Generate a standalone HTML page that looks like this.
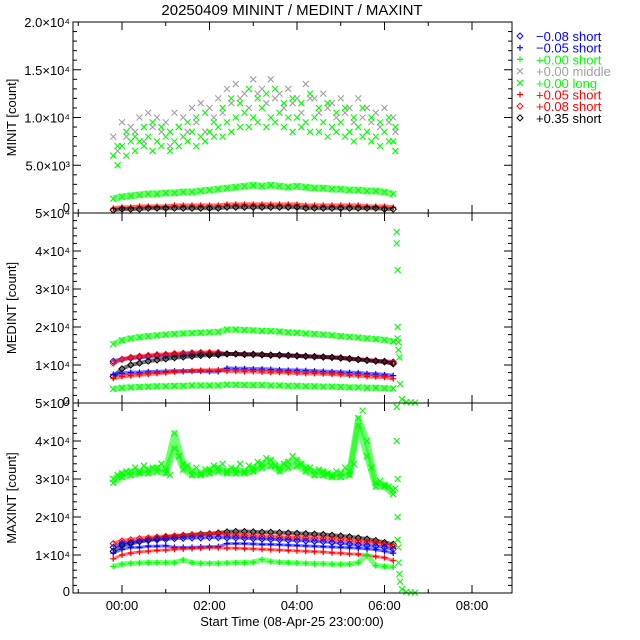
<!DOCTYPE html>
<html><head><meta charset="utf-8"><style>
html,body{margin:0;padding:0;background:#fff}
svg{display:block;font-family:"Liberation Sans",sans-serif}
</style></head><body>
<svg id="c" width="640" height="640" viewBox="0 0 640 640"></svg>
<script>
// ---- data (hours relative to 23:00, values in thousands of counts) ----
const times=[-0.2,0,0.2,0.4,0.6,0.8,1,1.2,1.4,1.6,1.8,2,2.2,2.4,2.6,2.8,3,3.2,3.4,3.6,3.8,4,4.2,4.4,4.6,4.8,5,5.2,5.4,5.6,5.8,6,6.2];
const times2=[-0.1,0.1,0.3,0.5,0.7,0.9,1.1,1.3,1.5,1.7,1.9,2.1,2.3,2.5,2.7,2.9,3.1,3.3,3.5,3.7,3.9,4.1,4.3,4.5,4.7,4.9,5.1,5.3,5.5,5.7,5.9,6.1,6.25];
const xTickLabels=["00:00","02:00","04:00","06:00","08:00"];
// MININT
const minMiddle=[8,9.5,9,10,10.5,10,9.5,10.5,10,11,11.5,11,12,13,13.5,12.5,14,13,14,12.5,13,12,13.5,12,12.5,11.5,12,11,12,11,10.5,11,10];
const minMiddle2=[6.5,8,8.5,7.5,9,8.5,7,9,8.5,9.5,8.5,10,10.5,11.5,12,11,12.5,11.5,12,11,11.5,10.5,12,10.5,11,10,10.5,9.5,10,9.5,9,9.5,8.5];
const minLong=[6,7,7.5,7.5,8,7.5,8,7.5,8,8.5,8,8.5,9,9.5,10,10.5,10,11,10,10.5,10,10,9.5,10,9.5,9,9.5,8.5,9,8.5,8,8.5,7.5];
const minLong2=[5,6,6.5,7,6.5,7,6.5,7,7.5,7,7.5,8,8,8.5,9,9,9.5,9,9.5,9,8.5,9,8.5,8.5,8,8.5,8,7.5,8,7.5,7,7.5,6.5];
const minLong3=[7,8.5,8,9,9.5,9,8.5,9,9.5,10,10.5,9.5,11,12,11.5,13,12,12.5,13,11.5,12,11.5,12.5,11,11.5,10.5,11,10,11,10,9.5,10,9];
const minShort=[1.5,1.7,1.8,1.9,2,2,2.1,2.1,2.2,2.2,2.3,2.4,2.5,2.6,2.7,2.8,2.9,2.8,2.9,2.8,2.7,2.8,2.7,2.6,2.6,2.5,2.5,2.4,2.4,2.3,2.3,2.2,2];
const minRed=[0.5,0.6,0.6,0.7,0.7,0.7,0.7,0.8,0.8,0.8,0.8,0.8,0.8,0.9,0.9,0.9,0.9,0.9,0.9,0.9,0.9,0.9,0.8,0.8,0.8,0.8,0.8,0.8,0.8,0.7,0.7,0.7,0.6];
const minBlack=[0.3,0.4,0.4,0.4,0.5,0.5,0.5,0.5,0.5,0.5,0.5,0.5,0.5,0.6,0.6,0.6,0.6,0.6,0.6,0.6,0.6,0.6,0.5,0.5,0.5,0.5,0.5,0.5,0.5,0.5,0.5,0.4,0.4];
// MEDINT
const medShort=[15.5,16.5,17,17.3,17.6,17.8,18,18.2,18.3,18.4,18.5,18.6,18.7,19.3,19.3,19.2,19.1,19,18.9,18.8,18.6,18.5,18.3,18.2,18,17.8,17.6,17.4,17.2,17,16.8,16.6,16.2];
const medBlueD=[11,11.5,11.8,12,12.2,12.4,12.5,12.7,12.8,12.9,13,13,13,12.9,12.9,12.8,12.8,12.7,12.6,12.6,12.5,12.4,12.3,12.2,12.1,12,11.9,11.7,11.5,11.3,11.1,11,10.8];
const medRedD=[10.5,11.5,12,12.3,12.5,12.7,12.8,13,13.1,13.2,13.3,13.3,13.3,12.9,12.9,12.8,12.8,12.7,12.6,12.6,12.5,12.4,12.3,12.2,12.1,12,11.9,11.7,11.5,11.3,11.1,10.9,10.6];
const medBlackD=[7,9,10,10.5,11,11.3,11.6,11.9,12.1,12.3,12.5,12.6,12.7,12.9,12.9,12.8,12.8,12.7,12.6,12.6,12.5,12.4,12.3,12.2,12.1,12,11.8,11.6,11.4,11.2,11,10.8,10.3];
const medBlueP=[7.5,7.8,8,8,8.2,8.2,8.3,8.4,8.4,8.4,8.4,8.3,8.3,9.1,9,9,8.9,8.9,8.8,8.7,8.6,8.6,8.5,8.4,8.3,8.2,8.1,8,7.9,7.7,7.6,7.4,7.2];
const medRedP=[6.5,7,7.2,7.4,7.6,7.8,8,8.2,8.3,8.5,8.6,8.6,8.7,8.4,8.4,8.3,8.3,8.2,8.1,8.1,8,7.9,7.8,7.8,7.7,7.6,7.5,7.3,7.2,7,6.9,6.8,6.4];
const medLow=[3.7,4,4.1,4.2,4.3,4.4,4.4,4.5,4.5,4.6,4.6,4.6,4.6,4.8,4.8,4.7,4.7,4.7,4.6,4.6,4.5,4.5,4.4,4.4,4.3,4.3,4.2,4.1,4.1,4,4,3.9,3.8];
const spikeTimes=[6.28,6.28,6.3,6.3,6.3,6.32,6.32,6.34,6.36,6.4,6.5,6.6,6.7];
const medSpike=[45,42,35,20,17,16,14,12,5,1,0.3,0.2,0.1];
// MAXINT
const maxCloud=[30,31.5,32,32,32.5,33,32.5,42,34,32,31.5,32.5,33,32,32.5,32,33,34,35,33,34.5,35,33,32,32,31,31.5,32,46,40,29,28.5,27];
const maxCloud2=[29,30.5,31,31.5,31.5,32,31.5,38,32.5,31,31,31.5,32,31.5,31.5,31.5,32,33,33.5,32,33,33.5,32,31,31,30.5,30.5,31,44,36,28,28,26];
const maxCloud3=[31,32,33,33.5,33,34,31,36,33.5,33,32.5,33.5,34,33,34,33.5,34.5,35.5,33.5,34,36,34,33,32.5,31.5,32,33,34,48,33,29.5,28,27.5];
const maxBlackD=[11,12.5,13,13.5,14,14.3,14.6,14.9,15.1,15.3,15.5,15.6,15.8,16.1,16.2,16.2,16.1,16,16,15.9,15.8,15.7,15.6,15.5,15.4,15.2,15,14.8,14.5,14.2,13.8,13.3,12.8];
const maxRedD=[13,13.7,14,14.3,14.5,14.7,14.9,15,15.2,15.3,15.4,15.5,15.6,15.3,15.2,15.1,15,14.9,14.8,14.7,14.6,14.6,14.5,14.4,14.3,14.2,14,13.8,13.6,13.4,13.2,12.8,12.2];
const maxBlueD=[12,13,13.3,13.6,13.8,14,14.1,14.3,14.4,14.5,14.5,14.6,14.6,14.5,14.5,14.4,14.3,14.2,14.1,14,13.9,13.8,13.7,13.6,13.5,13.3,13.1,12.9,12.7,12.5,12.3,12,11.5];
const maxBlueP=[10.5,11.5,12,12,12.3,12.3,12.4,12,12,12,12.1,12.2,12.2,13,13,13,12.9,12.8,12.8,12.7,12.6,12.5,12.4,12.3,12.2,12.1,12,11.9,11.8,11.6,11.4,11,10.5];
const maxRedP=[9,10,10.5,10.8,11,11.2,11.3,11.5,11.6,11.7,11.8,11.9,11.9,11.8,11.8,11.7,11.6,11.5,11.4,11.3,11.2,11.1,11,10.9,10.8,10.6,10.5,10.3,10.2,9.9,9.6,9.3,8.5];
const maxGreenP=[7,7.6,7.8,7.9,8,8,8,8,8.7,8,7.8,7.8,7.8,7.9,8,8,8.1,8.8,8.3,8.1,8,7.9,7.8,7.7,7.7,7.6,7.6,7.6,8,10,7.2,7,6.8];
const maxSpike=[49,40,30,20,14,12,8,5,3,1,0.3,0.2,0.1];

const svg=document.getElementById('c');
const NS='http://www.w3.org/2000/svg';
const L=73,R=512;
const xs=h=>122+h*43.75;
function mk(tag,attrs,parent){const e=document.createElementNS(NS,tag);for(const k in attrs)e.setAttribute(k,attrs[k]);(parent||svg).appendChild(e);return e;}
const panels=[{top:22,bot:213,max:20},{top:213,bot:403,max:50},{top:403,bot:593,max:50}];
const ysF=p=>v=>p.bot-(v/p.max)*(p.bot-p.top);

function marker(g,kind,x,y,col){
  let e;
  if(kind==='d'){e=mk('path',{d:`M${x} ${y-3}L${x+3} ${y}L${x} ${y+3}L${x-3} ${y}Z`,fill:'none',stroke:col,'stroke-width':1},g);}
  else if(kind==='p'){e=mk('path',{d:`M${x-3} ${y}H${x+3}M${x} ${y-3}V${y+3}`,stroke:col,'stroke-width':1.2},g);}
  else {e=mk('path',{d:`M${x-3} ${y-3}L${x+3} ${y+3}M${x+3} ${y-3}L${x-3} ${y+3}`,stroke:col,'stroke-width':1.1},g);}
  return e;
}
function series(pi,name,tArr,vArr,kind,col,band){
  const p=panels[pi],ys=ysF(p);
  const g=mk('g',{});
  
  
  if(band){
    mk('polyline',{points:tArr.map((t,i)=>xs(t)+','+ys(vArr[i])).join(' '),fill:'none',stroke:col,'stroke-width':band,'stroke-opacity':0.55,'stroke-linejoin':'round'},g);
  }
  tArr.forEach((t,i)=>{
    const m=marker(g,kind,xs(t),ys(vArr[i]),col);
    
    
  });
}
const G='#00ff00',B='#0000ff',Rd='#ff0000',K='#000000',Gy='#a0a0a0';
// MININT
series(0,'min-middle',times,minMiddle,'x',Gy,0);
series(0,'min-middle-2',times2,minMiddle2,'x',Gy,0);
series(0,'min-long',times,minLong,'x',G,0);
series(0,'min-long-2',times2,minLong2,'x',G,0);
series(0,'min-long-3',times2,minLong3,'x',G,0);
series(0,'min-short-green',times,minShort,'x',G,7);
series(0,'min-red',times,minRed,'p',Rd,4);
series(0,'min-black',times,minBlack,'d',K,4);
// MEDINT
series(1,'med-green-top',times,medShort,'x',G,6);
series(1,'med-blue-diamond',times,medBlueD,'d',B,4);
series(1,'med-red-diamond',times,medRedD,'d',Rd,4);
series(1,'med-black-diamond',times,medBlackD,'d',K,4);
series(1,'med-blue-plus',times,medBlueP,'p',B,4);
series(1,'med-red-plus',times,medRedP,'p',Rd,4);
series(1,'med-green-low',times,medLow,'x',G,6);
series(1,'med-spike',spikeTimes,medSpike,'x',G,0);
// MAXINT
series(2,'max-cloud',times,maxCloud,'x',G,6);
series(2,'max-cloud-2',times,maxCloud2,'x',G,6);
series(2,'max-cloud-3',times2,maxCloud3,'x',G,0);
series(2,'max-black-diamond',times,maxBlackD,'d',K,4);
series(2,'max-red-diamond',times,maxRedD,'d',Rd,4);
series(2,'max-blue-diamond',times,maxBlueD,'d',B,3);
series(2,'max-blue-plus',times,maxBlueP,'p',B,3);
series(2,'max-red-plus',times,maxRedP,'p',Rd,3);
series(2,'max-green-plus',times,maxGreenP,'p',G,5);
series(2,'max-spike',spikeTimes,maxSpike,'x',G,0);

// ---- axes ----
const yLabels=[
 {major:[0,5,10,15,20],minor:1,labels:['0','5.0×10³','1.0×10⁴','1.5×10⁴','2.0×10⁴'],title:'MINIT [count]'},
 {major:[0,10,20,30,40,50],minor:2,labels:['0','1×10⁴','2×10⁴','3×10⁴','4×10⁴','5×10⁴'],title:'MEDINT [count]'},
 {major:[0,10,20,30,40,50],minor:2,labels:['0','1×10⁴','2×10⁴','3×10⁴','4×10⁴','5×10⁴'],title:'MAXINT [count]'}
];
panels.forEach((p,pi)=>{
  const ys=ysF(p),cfg=yLabels[pi];
  const ax=mk('g',{stroke:'#000','stroke-width':1});
  
  
  mk('rect',{x:L,y:p.top,width:R-L,height:p.bot-p.top,fill:'none'},ax);
  for(let v=0;v<=p.max+1e-9;v+=cfg.minor){
    const y=ys(v),len=cfg.major.includes(v)?8:4;
    mk('line',{x1:L,x2:L+len,y1:y,y2:y},ax);mk('line',{x1:R,x2:R-len,y1:y,y2:y},ax);
  }
  for(let h=-1;h<=8;h++){
    const x=xs(h),len=h%2===0?8:4;
    mk('line',{x1:x,x2:x,y1:p.bot,y2:p.bot-len},ax);mk('line',{x1:x,x2:x,y1:p.top,y2:p.top+len},ax);
  }
  cfg.major.forEach((v,i)=>{
    let y=ys(v)+5; if(v===0&&pi===0) y-=6; if(v===0&&pi>0) y-=2;
    const t=mk('text',{x:L-3,y:y,'text-anchor':'end','font-size':13,fill:'#000'});
    t.textContent=cfg.labels[i];
    
    
  });
  const cy=(p.top+p.bot)/2;
  const tt=mk('text',{x:16,y:cy,'text-anchor':'middle','font-size':13,fill:'#000',transform:`rotate(-90 16 ${cy})`});
  tt.textContent=cfg.title;
  
  
});
xTickLabels.forEach((s,i)=>{
  const t=mk('text',{x:xs(i*2),y:610,'text-anchor':'middle','font-size':13,fill:'#000'});
  t.textContent=s;
  
  
});
const xt=mk('text',{x:292,y:626,'text-anchor':'middle','font-size':13,fill:'#000'});
xt.textContent='Start Time (08-Apr-25 23:00:00)';


const ti=mk('text',{x:292,y:15,'text-anchor':'middle','font-size':15,fill:'#000'});
ti.textContent='20250409 MININT / MEDINT / MAXINT';



// ---- legend ----
const legKinds=['d','p','p','x','x','p','d','d'];
const legCols=[B,B,G,Gy,G,Rd,Rd,K];
const legText=['−0.08 short','−0.05 short','+0.00 short','+0.00 middle','+0.00 long','+0.05 short','+0.08 short','+0.35 short'];
legText.forEach((s,i)=>{
  const y=36+i*11.7;
  const g=mk('g',{});
  
  
  marker(g,legKinds[i],520,y,legCols[i]);
  const t=mk('text',{x:536,y:y+5,'font-size':13,fill:legCols[i]},g);
  t.textContent=s;
});
</script>
</body></html>
